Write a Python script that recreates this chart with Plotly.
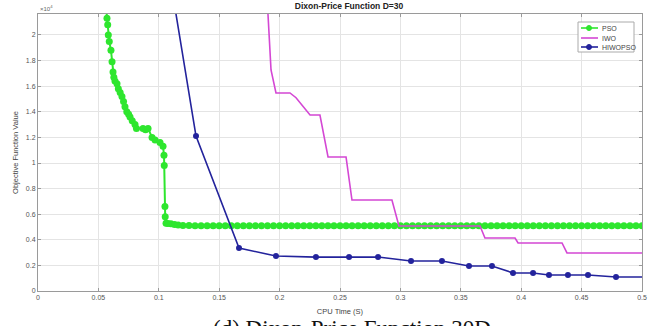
import plotly.graph_objects as go

# ---- data (objective values in units of 1e4) ----
pso_x = [0.0560, 0.0571, 0.0577, 0.0582, 0.0590, 0.0604, 0.0613, 0.0621, 0.0628, 0.0637,
         0.0654, 0.0665, 0.0680, 0.0695, 0.0708, 0.0720, 0.0735, 0.0750, 0.0762, 0.0780,
         0.0803, 0.0815, 0.0869, 0.0890, 0.0911, 0.0944, 0.0969, 0.1010, 0.1035, 0.1043,
         0.1045, 0.1051, 0.1053, 0.1060, 0.1075, 0.1100, 0.1130, 0.1160, 0.1200,
         0.125, 0.130, 0.135, 0.140, 0.145, 0.150, 0.155, 0.160, 0.165, 0.170,
         0.175, 0.180, 0.185, 0.190, 0.195, 0.200, 0.205, 0.210, 0.215, 0.220,
         0.225, 0.230, 0.235, 0.240, 0.245, 0.250, 0.255, 0.260, 0.265, 0.270,
         0.275, 0.280, 0.285, 0.290, 0.295, 0.300, 0.305, 0.310, 0.315, 0.320,
         0.325, 0.330, 0.335, 0.340, 0.345, 0.350, 0.355, 0.360, 0.365, 0.370,
         0.375, 0.380, 0.385, 0.390, 0.395, 0.400, 0.405, 0.410, 0.415, 0.420,
         0.425, 0.430, 0.435, 0.440, 0.445, 0.450, 0.455, 0.460, 0.465, 0.470,
         0.475, 0.480, 0.485, 0.490, 0.495, 0.500]
pso_y = [2.25, 2.13, 2.08, 2.00, 1.95, 1.88, 1.79, 1.71, 1.67, 1.64,
         1.62, 1.58, 1.55, 1.52, 1.48, 1.44, 1.40, 1.38, 1.36, 1.33,
         1.30, 1.27, 1.27, 1.26, 1.27, 1.20, 1.18, 1.16, 1.13, 1.06,
         0.98, 0.66, 0.58, 0.53, 0.528, 0.525, 0.520, 0.515, 0.512,
         0.511, 0.510, 0.510, 0.510, 0.510, 0.510, 0.510, 0.510, 0.510, 0.510,
         0.510, 0.510, 0.510, 0.510, 0.510, 0.510, 0.510, 0.510, 0.510, 0.510,
         0.510, 0.510, 0.510, 0.510, 0.510, 0.510, 0.510, 0.510, 0.510, 0.510,
         0.510, 0.510, 0.510, 0.510, 0.510, 0.510, 0.510, 0.510, 0.510, 0.510,
         0.510, 0.510, 0.510, 0.510, 0.510, 0.510, 0.510, 0.510, 0.510, 0.510,
         0.510, 0.510, 0.510, 0.510, 0.510, 0.510, 0.510, 0.510, 0.510, 0.510,
         0.510, 0.510, 0.510, 0.510, 0.510, 0.510, 0.510, 0.510, 0.510, 0.510,
         0.510, 0.510, 0.510, 0.510, 0.510, 0.510]

iwo_x = [0.1900, 0.1904, 0.1929, 0.1970, 0.2086, 0.2136, 0.2252, 0.2334, 0.2401, 0.2550,
         0.2599, 0.2930, 0.2988, 0.3659, 0.3700, 0.3949, 0.3974, 0.4338, 0.4379, 0.5000]
iwo_y = [2.40, 2.16, 1.727, 1.547, 1.547, 1.51, 1.375, 1.375, 1.047, 1.047,
         0.711, 0.711, 0.508, 0.508, 0.414, 0.414, 0.375, 0.375, 0.297, 0.297]

hiwo_x = [0.1096, 0.1308, 0.1664, 0.1970, 0.2301, 0.2575, 0.2815, 0.3088, 0.3344, 0.3568,
          0.3758, 0.3932, 0.4098, 0.4230, 0.4387, 0.4553, 0.4785, 0.5060]
hiwo_y = [2.43, 1.21, 0.336, 0.273, 0.265, 0.265, 0.265, 0.234, 0.234, 0.195,
          0.195, 0.141, 0.141, 0.125, 0.125, 0.125, 0.109, 0.109]

series_names = ["PSO", "IWO", "HIWOPSO"]
series_colors = ["#2ee62e", "#d447d4", "#23239c"]
series_markers = [True, False, True]

x_ticks = [0, 0.05, 0.1, 0.15, 0.2, 0.25, 0.3, 0.35, 0.4, 0.45, 0.5]
x_labels = ["0", "0.05", "0.1", "0.15", "0.2", "0.25", "0.3", "0.35", "0.4", "0.45", "0.5"]
y_ticks = [0, 0.2, 0.4, 0.6, 0.8, 1.0, 1.2, 1.4, 1.6, 1.8, 2.0]
y_labels = ["0", "0.2", "0.4", "0.6", "0.8", "1", "1.2", "1.4", "1.6", "1.8", "2"]

W, H = 655, 326
ML, MR, MT, MB = 38, 13, 14, 35
PW, PH = W - ML - MR, H - MT - MB


def px_x(p):
    return (p - ML) / PW


def px_y(p):
    return (H - MB - p) / PH


fig = go.Figure()
fig.add_trace(go.Scatter(x=pso_x, y=pso_y, name="PSO", mode="lines+markers",
                         line=dict(color=series_colors[0], width=2),
                         marker=dict(color=series_colors[0], size=7, symbol="circle")))
fig.add_trace(go.Scatter(x=iwo_x, y=iwo_y, name="IWO", mode="lines",
                         line=dict(color=series_colors[1], width=1.6)))
fig.add_trace(go.Scatter(x=hiwo_x, y=hiwo_y, name="HIWOPSO", mode="lines+markers",
                         line=dict(color=series_colors[2], width=1.6),
                         marker=dict(color=series_colors[2], size=6, symbol="circle")))

axis_common = dict(showgrid=True, gridcolor="#e4e4e4", gridwidth=1,
                   showline=True, linecolor="#9a9a9a", linewidth=1, mirror="ticks",
                   ticks="inside", ticklen=3, tickcolor="#9a9a9a", automargin=False,
                   tickfont=dict(family="Liberation Sans, Arial", size=7, color="#555555"),
                   zeroline=False)

# manual compact legend (MATLAB style)
shapes = [dict(type="rect", xref="paper", yref="paper",
               x0=px_x(578), x1=px_x(634), y0=px_y(52), y1=px_y(22),
               line=dict(color="#aaaaaa", width=1), fillcolor="white", layer="above")]
annotations = []
legend_rows = [28, 38, 47]
for name, col, mk, row in zip(series_names, series_colors, series_markers, legend_rows):
    shapes.append(dict(type="line", xref="paper", yref="paper",
                       x0=px_x(581), x1=px_x(598), y0=px_y(row), y1=px_y(row),
                       line=dict(color=col, width=1.6), layer="above"))
    if mk:
        shapes.append(dict(type="circle", xref="paper", yref="paper",
                           x0=px_x(586.5), x1=px_x(591.5), y0=px_y(row + 2.5), y1=px_y(row - 2.5),
                           line=dict(color=col, width=1), fillcolor=col, layer="above"))
    annotations.append(dict(text=name, xref="paper", yref="paper", x=px_x(600), y=px_y(row),
                            xanchor="left", yanchor="middle", showarrow=False,
                            font=dict(family="Liberation Sans, Arial", size=7, color="#444444")))

annotations += [
    dict(text="\u00d710<sup>4</sup>", xref="paper", yref="paper", x=0.0, y=1.0,
         xanchor="left", yanchor="bottom", showarrow=False,
         font=dict(family="Liberation Sans, Arial", size=6, color="#666666")),
    dict(text="(d) Dixon-Price Function 30D", xref="paper", yref="paper",
         x=px_x(352), y=px_y(314), xanchor="center", yanchor="top", showarrow=False,
         font=dict(family="Liberation Serif, Times New Roman", size=23, color="#111111")),
]

fig.update_layout(
    width=W, height=H,
    margin=dict(l=ML, r=MR, t=MT, b=MB),
    paper_bgcolor="white", plot_bgcolor="white",
    title=dict(text="<b>Dixon-Price Function D=30</b>", x=349 / W,
               xanchor="center", y=1 - 3 / H, yanchor="top", automargin=False,
               font=dict(family="Liberation Sans, Arial", size=8.5, color="#222222")),
    xaxis=dict(range=[0, 0.5], tickvals=x_ticks, ticktext=x_labels,
               title=dict(text="CPU Time (S)", standoff=8,
                          font=dict(family="Liberation Sans, Arial", size=7.5, color="#444444")),
               **axis_common),
    yaxis=dict(range=[0, 2.164], tickvals=y_ticks, ticktext=y_labels,
               title=dict(text="Objective Function Value", standoff=6,
                          font=dict(family="Liberation Sans, Arial", size=7.5, color="#444444")),
               **axis_common),
    showlegend=False,
    shapes=shapes,
    annotations=annotations,
)

fig.write_html("out.html", config={"displayModeBar": False},
               post_script="document.body.style.margin='0';document.body.style.overflow='hidden';")
